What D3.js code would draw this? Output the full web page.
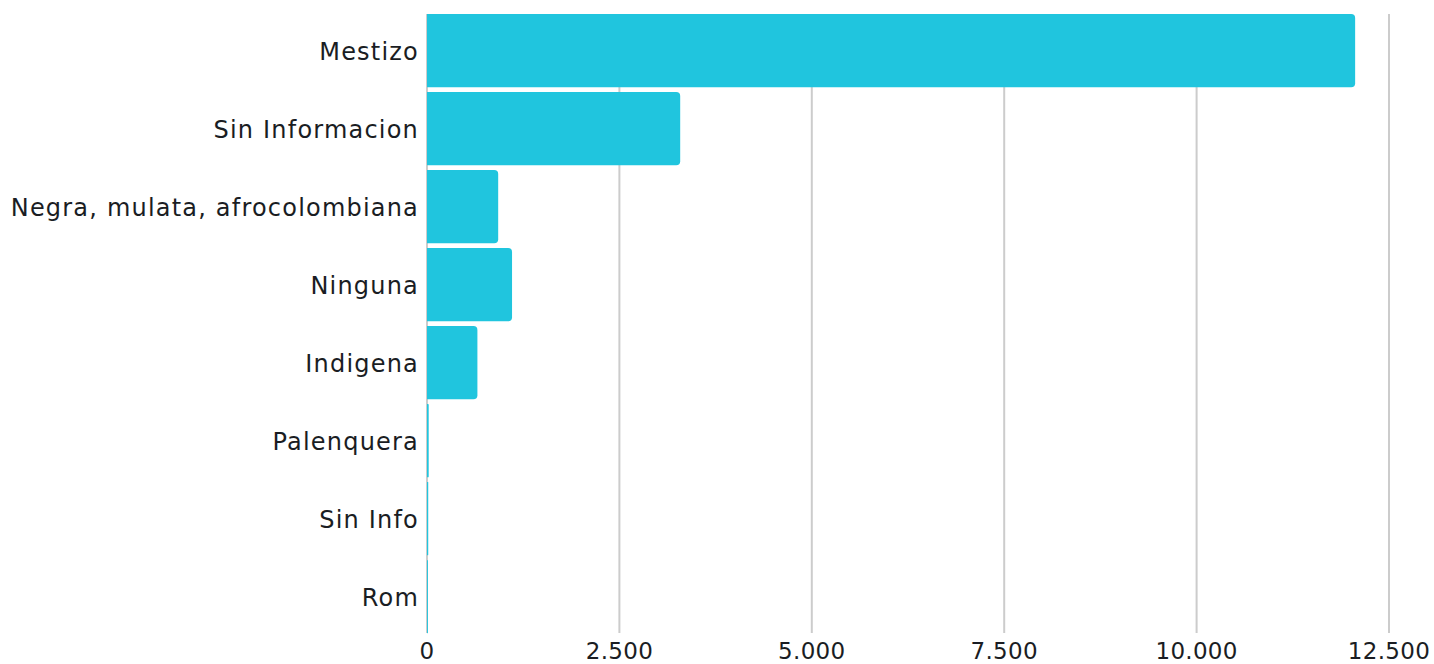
<!DOCTYPE html>
<html><head><meta charset="utf-8">
<script src="https://cdn.jsdelivr.net/npm/d3@7"></script>
<style>body{margin:0;background:#fff}svg{display:block}text{font-family:"DejaVu Sans",sans-serif;fill:#1a1d23}</style>
</head><body><svg id="c" width="1434" height="664"></svg>
<script>
const categories = ["Mestizo","Sin Informacion","Negra, mulata, afrocolombiana","Ninguna","Indigena","Palenquera","Sin Info","Rom"];
const values = [12060, 3290, 925, 1105, 655, 22, 16, 12];
const tickValues = [0, 2500, 5000, 7500, 10000, 12500];

const svg = d3.select("#c");
const x = d3.scaleLinear().domain([0,12500]).range([427,1389]);
const y = d3.scaleBand().domain(categories).range([14,633.3]).paddingInner(0.06).paddingOuter(0);

const fmt = v => d3.format(",")(v).replace(/,/g,".");

svg.append("g").selectAll("line").data(tickValues).join("line")
  .attr("x1",d=>x(d)).attr("x2",d=>x(d)).attr("y1",14).attr("y2",633)
  .attr("stroke","#cccccc").attr("stroke-width",2);

svg.append("g").selectAll("text").data(tickValues).join("text")
  .attr("x",d=>x(d)).attr("y",659).attr("text-anchor","middle")
  .style("font-size","23px").style("letter-spacing","0.3px").text(fmt);

const r = 4;
svg.append("g").selectAll("path").data(categories).join("path")
  .attr("fill","#20c5de")
  .attr("d",(c,i)=>{
    const x0=x(0), x1=x(values[i]), y0=y(c), h=y.bandwidth();
    const w=x1-x0, rr=Math.min(r,w/2);
    return `M${x0},${y0}H${x1-rr}Q${x1},${y0} ${x1},${y0+rr}V${y0+h-rr}Q${x1},${y0+h} ${x1-rr},${y0+h}H${x0}Z`;
  });

svg.append("g").selectAll("text").data(categories).join("text")
  .attr("x",419).attr("y",c=>y(c)+y.bandwidth()/2).attr("dy","0.38em")
  .attr("text-anchor","end").style("font-size","24px").style("letter-spacing","1.2px").text(c=>c);
</script></body></html>
